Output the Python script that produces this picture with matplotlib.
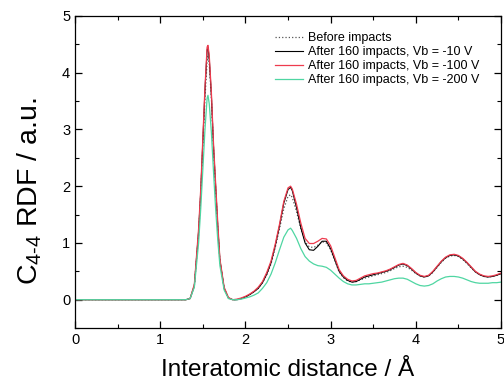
import matplotlib
matplotlib.use('Agg')
from matplotlib import pyplot as plt
from matplotlib.ticker import MultipleLocator

plt.rcParams['font.family'] = ['Liberation Sans', 'DejaVu Sans']

# interatomic distance (Angstrom)
r = [0.0, 1.30,
     1.35, 1.40, 1.45, 1.475, 1.50, 1.525, 1.55, 1.56, 1.575, 1.60, 1.625, 1.65, 1.675, 1.70, 1.75, 1.80,
     1.85, 1.90, 1.95, 2.00, 2.05, 2.10, 2.15, 2.20, 2.25, 2.30, 2.35, 2.40, 2.45, 2.50, 2.53, 2.55,
     2.60, 2.65, 2.70, 2.75, 2.80, 2.85, 2.90, 2.95, 3.00,
     3.05, 3.10, 3.15, 3.20, 3.25, 3.30, 3.35, 3.40, 3.45, 3.50,
     3.55, 3.60, 3.65, 3.70, 3.75, 3.80, 3.85, 3.90, 3.95, 4.00,
     4.05, 4.10, 4.15, 4.20, 4.25, 4.30, 4.35, 4.40, 4.45, 4.50,
     4.55, 4.60, 4.65, 4.70, 4.75, 4.80, 4.85, 4.90, 4.95, 5.00]

before = [0, 0,
          0.02, 0.24, 1.15, 1.85, 2.7, 3.55, 4.2, 4.3, 4.15, 3.55, 2.65, 1.95, 1.25, 0.68, 0.2, 0.03,
          0.0, 0.0, 0.02, 0.05, 0.09, 0.14, 0.20, 0.30, 0.44, 0.63, 0.92, 1.25, 1.60, 1.82, 1.85, 1.80,
          1.55, 1.25, 1.02, 0.93, 0.92, 0.96, 1.02, 1.00, 0.88,
          0.68, 0.49, 0.39, 0.33, 0.31, 0.32, 0.35, 0.38, 0.40, 0.42,
          0.44, 0.46, 0.48, 0.51, 0.55, 0.58, 0.59, 0.57, 0.52, 0.46,
          0.42, 0.40, 0.42, 0.48, 0.57, 0.66, 0.73, 0.77, 0.78, 0.76,
          0.71, 0.64, 0.56, 0.49, 0.44, 0.41, 0.40, 0.41, 0.43, 0.46]

vb10 = [0, 0,
        0.02, 0.25, 1.2, 1.9, 2.8, 3.7, 4.4, 4.45, 4.25, 3.6, 2.7, 2.0, 1.3, 0.7, 0.2, 0.03,
        0.0, 0.0, 0.02, 0.05, 0.09, 0.14, 0.20, 0.30, 0.45, 0.65, 0.95, 1.30, 1.70, 1.94, 1.98, 1.92,
        1.62, 1.27, 1.00, 0.88, 0.87, 0.94, 1.03, 1.03, 0.90,
        0.70, 0.50, 0.40, 0.34, 0.31, 0.32, 0.36, 0.40, 0.42, 0.44,
        0.46, 0.48, 0.50, 0.53, 0.57, 0.61, 0.63, 0.60, 0.54, 0.47,
        0.42, 0.40, 0.42, 0.49, 0.58, 0.67, 0.74, 0.78, 0.79, 0.77,
        0.72, 0.65, 0.57, 0.49, 0.44, 0.41, 0.40, 0.41, 0.43, 0.46]

vb100 = [0, 0,
         0.02, 0.27, 1.25, 1.95, 2.85, 3.75, 4.45, 4.48, 4.3, 3.65, 2.75, 2.05, 1.35, 0.72, 0.22, 0.04,
         0.0, 0.01, 0.03, 0.06, 0.10, 0.15, 0.22, 0.32, 0.48, 0.68, 0.98, 1.33, 1.73, 1.97, 2.00, 1.95,
         1.68, 1.35, 1.08, 0.99, 0.99, 1.03, 1.08, 1.07, 0.95,
         0.74, 0.53, 0.42, 0.36, 0.33, 0.34, 0.38, 0.42, 0.44, 0.46,
         0.47, 0.49, 0.51, 0.54, 0.58, 0.62, 0.64, 0.61, 0.55, 0.48,
         0.43, 0.41, 0.43, 0.50, 0.59, 0.68, 0.75, 0.79, 0.80, 0.78,
         0.73, 0.66, 0.58, 0.50, 0.45, 0.42, 0.41, 0.42, 0.44, 0.47]

vb200 = [0, 0,
         0.02, 0.22, 1.0, 1.6, 2.3, 3.0, 3.55, 3.6, 3.45, 2.95, 2.25, 1.6, 1.05, 0.6, 0.17, 0.02,
         0.0, 0.0, 0.01, 0.03, 0.05, 0.08, 0.12, 0.20, 0.30, 0.45, 0.65, 0.88, 1.10, 1.23, 1.26, 1.22,
         1.08, 0.90, 0.76, 0.68, 0.63, 0.60, 0.59, 0.57, 0.52,
         0.45, 0.38, 0.32, 0.28, 0.26, 0.26, 0.27, 0.28, 0.28, 0.29,
         0.30, 0.31, 0.33, 0.35, 0.37, 0.38, 0.38, 0.36, 0.32, 0.28,
         0.25, 0.24, 0.25, 0.28, 0.33, 0.37, 0.40, 0.41, 0.41, 0.40,
         0.38, 0.35, 0.32, 0.30, 0.29, 0.29, 0.29, 0.30, 0.30, 0.31]

labels = ['Before impacts',
          'After 160 impacts, Vb = -10 V',
          'After 160 impacts, Vb = -100 V',
          'After 160 impacts, Vb = -200 V']

fig = plt.figure(figsize=(5.04, 3.86), dpi=100)
ax = fig.add_axes([0.149, 0.150, 0.845, 0.809])

ax.plot(r, before, color='#555555', ls=':', lw=0.9, label=labels[0])
ax.plot(r, vb10, color='black', lw=0.8, label=labels[1])
ax.plot(r, vb100, color='#ee3b4e', lw=0.9, label=labels[2])
ax.plot(r, vb200, color='#4fd6a2', lw=0.9, label=labels[3])

ax.set_xlim(0, 5)
ax.set_ylim(-0.5, 5)
ax.xaxis.set_major_locator(MultipleLocator(1))
ax.xaxis.set_minor_locator(MultipleLocator(0.5))
ax.yaxis.set_minor_locator(MultipleLocator(0.5))
ax.set_yticks([0, 1, 2, 3, 4, 5])
ax.tick_params(which='both', direction='in', top=True, right=True, labelsize=10.5)
ax.tick_params(which='major', length=5, width=0.9)
ax.tick_params(which='minor', length=3, width=0.8)
for s in ax.spines.values():
    s.set_linewidth(0.9)

ax.set_xlabel('Interatomic distance / Å', fontsize=17.5, labelpad=9)
ax.set_ylabel('C$_{\\mathregular{4\u20104}}$ RDF / a.u.', fontsize=20.5)
ax.yaxis.set_label_coords(-0.072, 0.44)

ax.legend(loc='upper right', bbox_to_anchor=(0.962, 0.963), borderaxespad=0,
          frameon=False, fontsize=9, handlelength=2.3, handletextpad=0.4,
          labelspacing=0.15)

fig.savefig('out.png', dpi=100)
